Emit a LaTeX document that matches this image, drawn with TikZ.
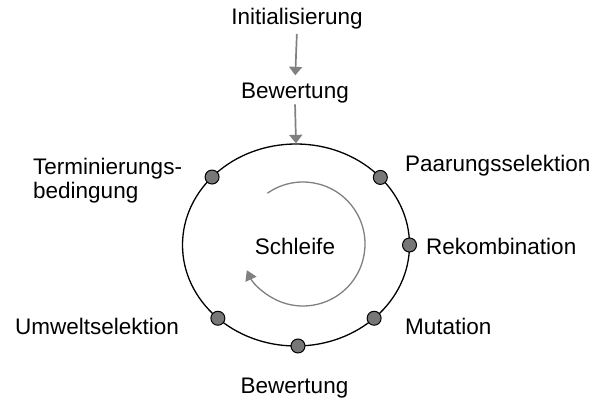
\documentclass[tikz,border=0pt]{standalone}
\usepackage{fontspec}
\setmainfont{Liberation Sans}
\usetikzlibrary{arrows.meta,shapes.geometric,calc}
\definecolor{flowgray}{HTML}{808080}
\definecolor{dotgray}{HTML}{777777}
\begin{document}
\begin{tikzpicture}[x=1pt,y=1pt,
  lbl/.style={inner sep=0pt,font=\fontsize{22.5}{24}\selectfont},
  flow/.style={draw=flowgray,line width=1.7pt,-{Triangle[width=13pt,length=8.5pt]},flowgray},
  stage/.style={circle,draw=black,fill=dotgray,line width=1pt,minimum size=14pt,inner sep=0pt},
  cycle/.style={ellipse,draw=black,line width=1.3pt,minimum width=227pt,minimum height=202pt,inner sep=0pt}]
\useasboundingbox (0,0) rectangle (593,400);

% top of the flow
\node[lbl,anchor=base] (init) at (297,375) {Initialisierung};
\node[lbl,anchor=base] (eval1) at (295,302) {Bewertung};

% the loop
\node[cycle] (loop) at (296,155) {};
\node[lbl,anchor=base] (loopname) at (295,146) {Schleife};

\draw[flow,shorten <=4pt,shorten >=7pt] (init.south) -- (eval1.north);
\draw[flow,shorten <=1.5pt] (eval1.south) -- (loop.north);

% stages on the loop
\node[stage] (term)  at ($(loop.center)+(137.7:113.5pt and 101pt)$) {};
\node[stage] (pair)  at ($(loop.center)+(42:113.5pt and 101pt)$) {};
\node[stage] (recom) at ($(loop.center)+(0:113.5pt and 101pt)$) {};
\node[stage] (mut)   at ($(loop.center)+(-46.5:113.5pt and 101pt)$) {};
\node[stage] (eval2) at ($(loop.center)+(-89:113.5pt and 101pt)$) {};
\node[stage] (envs)  at ($(loop.center)+(-133.5:113.5pt and 101pt)$) {};

% stage labels
\node[lbl,anchor=north west,align=left] (termtext) at (33,242) {Terminierungs-\\bedingung};
\node[lbl,anchor=base west] (pairtext) at (405,229) {Paarungsselektion};
\node[lbl,anchor=base west] (recomtext) at (426,146) {Rekombination};
\node[lbl,anchor=base west] (muttext) at (405,66) {Mutation};
\node[lbl,anchor=base west] (envstext) at (15,66) {Umweltselektion};
\node[lbl,anchor=base] (eval2text) at (294.5,7) {Bewertung};

% circulating arrow inside the loop
\coordinate (spin) at (303,156);
\draw[draw=flowgray,line width=1.3pt,-{Triangle[width=12pt,length=10pt]},flowgray]
  ($(spin)+(125:62pt)$) arc[start angle=125,end angle=-155,radius=62pt];
\end{tikzpicture}
\end{document}
